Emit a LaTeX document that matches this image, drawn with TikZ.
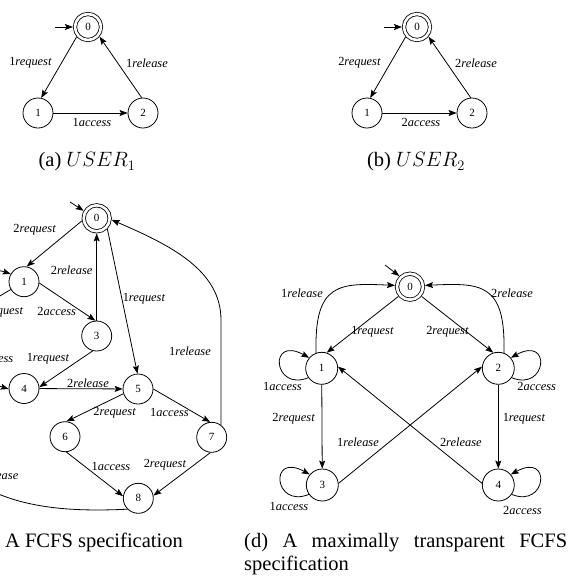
\documentclass[tikz,border=0pt]{standalone}
\usepackage{fontspec}
\setmainfont{Liberation Serif}
\usetikzlibrary{arrows.meta}
\tikzset{
  st/.style={circle, draw, line width=0.8pt, minimum size=30pt, inner sep=0pt,
             font=\fontsize{11}{11}\selectfont},
  stbig/.style={st, minimum size=32pt},
  acc/.style={circle, draw, double, double distance=2.6pt, line width=0.8pt,
              minimum size=26pt, inner sep=0pt, outer sep=2.1pt,
              font=\fontsize{11}{11}\selectfont},
  arr/.style={-{Stealth[length=8pt,width=6pt,inset=1.5pt]}, line width=0.8pt},
  lbl/.style={font=\fontsize{12.4}{14}\selectfont, inner sep=0pt},
  captext/.style={font=\fontsize{20.5}{23}\selectfont, inner sep=0pt},
}
\begin{document}
\begin{tikzpicture}[x=1pt,y=-1pt]
\useasboundingbox (0,0) rectangle (569,579);
\clip (0,0) rectangle (569,579);

% ---------- (a) USER_1 ----------
\node[acc] (a0) at (88,27) {0};
\node[st]  (a1) at (38,113) {1};
\node[st]  (a2) at (143,113) {2};
\coordinate (a0in) at (55,27);
\draw[arr] (a0in) -- (a0);
\draw[arr] (a0.221) -- (a1.78);
\draw[arr] (a1) -- (a2);
\draw[arr] (a2.95) -- (a0.-40);
\node[lbl] (la01) at (30.5,63) {1\textit{request}};
\node[lbl] (la20) at (147,63) {1\textit{release}};
\node[lbl] (la12) at (92,122) {1\textit{access}};
\node[captext] (capa) at (87,162) {(a) $USER_1$};

% ---------- (b) USER_2 ----------
\node[acc] (b0) at (417,27) {0};
\node[st]  (b1) at (367,113) {1};
\node[st]  (b2) at (472,113) {2};
\coordinate (b0in) at (384,27);
\draw[arr] (b0in) -- (b0);
\draw[arr] (b0.221) -- (b1.78);
\draw[arr] (b1) -- (b2);
\draw[arr] (b2.95) -- (b0.-40);
\node[lbl] (lb01) at (359.5,63) {2\textit{request}};
\node[lbl] (lb20) at (476,63) {2\textit{release}};
\node[lbl] (lb12) at (421,122) {2\textit{access}};
\node[captext] (capb) at (416,162) {(b) $USER_2$};

% ---------- (c) FCFS specification ----------
\node[acc] (c0) at (96.7,218.3) {0};
\node[st]  (c1) at (24,281.7) {1};
\coordinate (c2) at (-100,355);
\node[st]  (c3) at (96.7,336) {3};
\node[st]  (c4) at (24,388.5) {4};
\node[st]  (c5) at (138,389) {5};
\node[st]  (c6) at (65,436.7) {6};
\node[st]  (c7) at (211.7,437.3) {7};
\node[st]  (c8) at (138.3,498.3) {8};
\coordinate (c0in) at (70,202);
\draw[arr] (c0in) -- (c0.150);
\draw[arr] (c0.190) -- (c1.80);
\draw[arr] (c1.-5) -- (c3.95);
\draw[arr] (c3) -- (c0);
\draw[arr] (c0.-45) -- (c5.92);
\draw[arr] (c1) -- (c2);
\draw[arr] (c2) -- (c4.182);
\draw[arr] (c3.-105) -- (c4.5);
\draw[arr] (c4) -- (c5);
\draw[arr] (c5.198) -- (c6.84);
\draw[arr] (c5.0) -- (c7.96);
\draw[arr] (c6.-85) -- (c8.172);
\draw[arr] (c7.-95) -- (c8.10);
\draw[arr] (c7.53) -- (221,320) .. controls (221,270) and (170,245) .. (c0.-6);
\draw[arr] (c8.225) .. controls (70,512) and (20,508) .. (-20,485)
           .. controls (-140,450) and (-60,250) .. (c1.150);
\node[lbl] (lc01) at (34.7,230) {2\textit{request}};
\node[lbl] (lc30) at (71.7,270.7) {2\textit{release}};
\node[lbl] (lc13) at (56.7,311) {2\textit{access}};
\node[lbl] (lc05) at (144,298.3) {1\textit{request}};
\node[lbl] (lc12) at (2,312) {1\textit{request}};
\node[lbl] (lc24) at (-6,358) {2\textit{access}};
\node[lbl] (lc34) at (48,359) {1\textit{request}};
\node[lbl] (lc45) at (88,383.3) {2\textit{release}};
\node[lbl] (lc56) at (114.7,412.3) {2\textit{request}};
\node[lbl] (lc57) at (169.5,412.3) {1\textit{access}};
\node[lbl] (lc70) at (190,351.7) {1\textit{release}};
\node[lbl] (lc68) at (111,466) {1\textit{access}};
\node[lbl] (lc78) at (165,465) {2\textit{request}};
\node[lbl] (lc81) at (-2.5,475) {1\textit{release}};
\node[captext, anchor=east] (capc) at (183,542) {(c) A FCFS specification};

% ---------- (d) maximally transparent FCFS specification ----------
\node[acc]   (d0) at (410,286.7) {0};
\node[stbig] (d1) at (321.7,368.3) {1};
\node[stbig] (d2) at (498.3,368.3) {2};
\node[stbig] (d3) at (322.3,485) {3};
\node[stbig] (d4) at (498.3,485) {4};
\coordinate (d0in) at (385,265);
\draw[arr] (d0in) -- (d0.135);
\draw[arr] (d0.220) -- (d1.72);
\draw[arr] (d0.-40) -- (d2.108);
\draw[arr] (d1.110) .. controls (314,282) and (340,283) .. (d0.175);
\draw[arr] (d2.70) .. controls (506,282) and (480,283) .. (d0.5);
\draw[arr] (d1.215) .. controls (273,392) and (268,335) .. (d1.140);
\draw[arr] (d2.-35) .. controls (547,392) and (552,335) .. (d2.40);
\draw[arr] (d3.215) .. controls (273.6,508.7) and (268.6,451.7) .. (d3.140);
\draw[arr] (d4.-35) .. controls (547,508.7) and (552,451.7) .. (d4.40);
\draw[arr] (d1) -- (d3);
\draw[arr] (d2) -- (d4);
\draw[arr] (d3.6) -- (d2.174);
\draw[arr] (d4.174) -- (d1.6);
\node[lbl] (ld10) at (302,293.3) {1\textit{release}};
\node[lbl] (ld01) at (372.5,331.7) {1\textit{request}};
\node[lbl] (ld02) at (447.5,331.7) {2\textit{request}};
\node[lbl] (ld20) at (512,293.3) {2\textit{release}};
\node[lbl] (ld11) at (282.5,386.7) {1\textit{access}};
\node[lbl] (ld22) at (536.7,386.7) {2\textit{access}};
\node[lbl] (ld13) at (293.7,418.3) {2\textit{request}};
\node[lbl] (ld24) at (524,418.3) {1\textit{request}};
\node[lbl] (ld32) at (358,442.7) {1\textit{release}};
\node[lbl] (ld41) at (460.8,442.7) {2\textit{release}};
\node[lbl] (ld33) at (289,506) {1\textit{access}};
\node[lbl] (ld44) at (522.5,510) {2\textit{access}};
\node[captext, anchor=north west, text width=323pt, align=justify] (capd) at (244,533)
  {\hyphenpenalty=10000 (d) A maximally transparent FCFS\linebreak specification};
\end{tikzpicture}
\end{document}
